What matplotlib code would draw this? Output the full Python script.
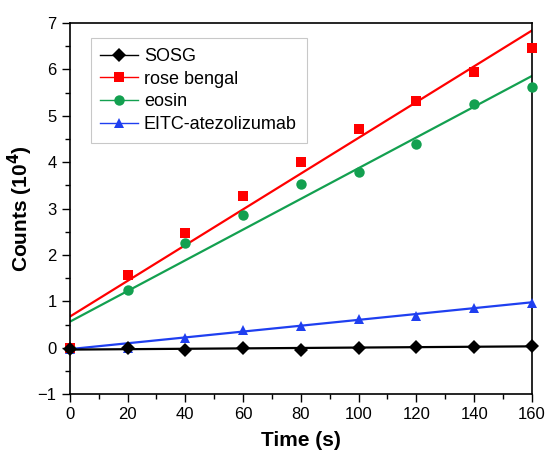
import matplotlib

matplotlib.use("Agg")
import matplotlib.pyplot as plt
from matplotlib.lines import Line2D
from matplotlib.ticker import MultipleLocator

plt.rcParams["font.family"] = ["Liberation Sans", "DejaVu Sans"]

# time points (s)
time_s = [0, 20, 40, 60, 80, 100, 120, 140, 160]

# counts in units of 10^4
sosg = [-0.02, 0.0, -0.05, -0.01, -0.05, -0.01, 0.01, 0.01, 0.03]
rose_bengal = [0.0, 1.57, 2.47, 3.28, 4.0, 4.72, 5.33, 5.95, 6.47]
eosin = [0.0, 1.25, 2.25, 2.86, 3.52, 3.8, 4.4, 5.25, 5.63]
eitc = [-0.02, 0.0, 0.22, 0.38, 0.47, 0.63, 0.68, 0.85, 0.97]

# linear fits: value at 0 s and at 160 s
fit_sosg = [-0.04, 0.03]
fit_rose = [0.67, 6.84]
fit_eosin = [0.56, 5.86]
fit_eitc = [-0.03, 0.98]

series_names = ["SOSG", "rose bengal", "eosin", "EITC-atezolizumab"]
colors = ["#000000", "#ff0000", "#13a050", "#1f3ff0"]
markers = ["D", "s", "o", "^"]
marker_sizes = [6.8, 6.8, 7.5, 7.5]

series = [sosg, rose_bengal, eosin, eitc]
fits = [fit_sosg, fit_rose, fit_eosin, fit_eitc]

fig = plt.figure(figsize=(5.45, 4.53), dpi=100)
ax = fig.add_axes([0.128, 0.130, 0.848, 0.819])

fit_x = [time_s[0], time_s[-1]]
# draw in reverse so SOSG sits on top
for values, fit, color, marker, ms in reversed(list(zip(series, fits, colors, markers, marker_sizes))):
    ax.plot(fit_x, fit, color=color, lw=1.6, zorder=2)
    ax.plot(time_s, values, linestyle="none", marker=marker, color=color,
            markersize=ms, markeredgewidth=0, zorder=3, clip_on=False)

ax.set_xlim(0, 160)
ax.set_ylim(-1, 7)
ax.xaxis.set_major_locator(MultipleLocator(20))
ax.xaxis.set_minor_locator(MultipleLocator(10))
ax.yaxis.set_major_locator(MultipleLocator(1))
ax.yaxis.set_minor_locator(MultipleLocator(0.5))
ax.tick_params(which="both", direction="out", top=False, right=False,
               width=1.0, labelsize=12, colors="black")
ax.tick_params(which="major", length=6)
ax.tick_params(which="minor", length=3.5)
for spine in ax.spines.values():
    spine.set_linewidth(1.2)

ax.set_xlabel("Time (s)", fontsize=15, fontweight="bold", labelpad=6)
ax.set_ylabel("Counts (10$^{\\mathbf{4}}$)", fontsize=15, fontweight="bold", labelpad=2)

handles = [
    Line2D([], [], color=c, lw=1.0, marker=m, markersize=ms, markeredgewidth=0)
    for c, m, ms in zip(colors, markers, marker_sizes)
]
leg = ax.legend(handles, series_names, loc="upper left", bbox_to_anchor=(0.045, 0.96),
                fontsize=13, frameon=True, fancybox=False, handlelength=2.1,
                handletextpad=0.3, labelspacing=0.32, borderpad=0.55,
                borderaxespad=0.0)
leg.get_frame().set_edgecolor("#bbbbbb")
leg.get_frame().set_linewidth(0.8)

fig.savefig("out.png", dpi=100)
